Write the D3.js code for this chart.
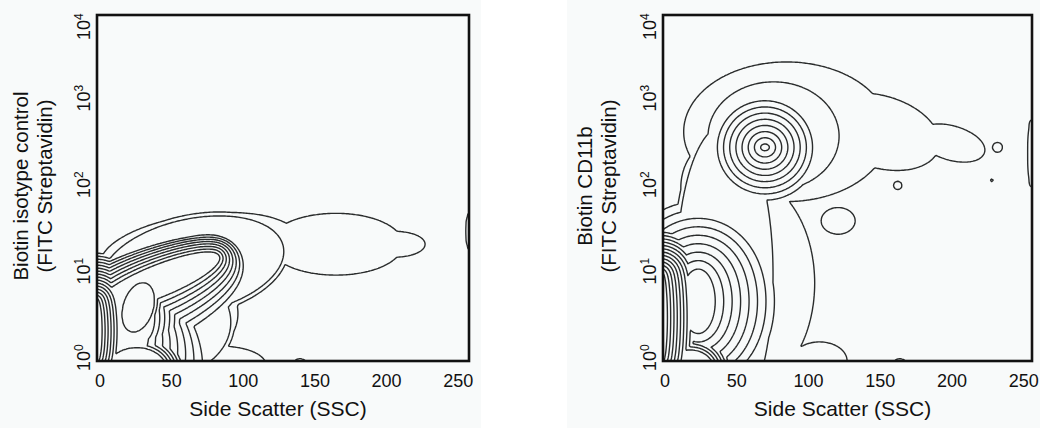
<!DOCTYPE html>
<html><head><meta charset="utf-8">
<script src="https://cdn.jsdelivr.net/npm/d3@7"></script>
<style>
body{margin:0;background:#fff}
text{font-family:"Liberation Sans",Arial,Helvetica,sans-serif;fill:#111}
</style></head>
<body><svg id="c" width="1040" height="428"></svg>
<script>
// ---------- data ----------
const sscTicks = [0, 50, 100, 150, 200, 250];
const fitcTicks = [1, 10, 100, 1000, 10000];
const xTitle = "Side Scatter (SSC)";
const yTitles = [["Biotin isotype control", "(FITC Streptavidin)"], ["Biotin CD11b", "(FITC Streptavidin)"]];
const contourLevels = [1, 2, 4, 8, 16, 32, 64, 128, 256, 512, 1024, 2048, 4096, 8192, 16384, 32768];
// populations: [SSC centre, log10 FITC centre, half-width SSC, half-width decades, tilt,
//               density level, edge softness (SSC units), softness change per decade]
const isotypePops = [
  [-3, 0.35, 3, 0.35, 0, 60000, 3, 0],
  [5, 0.3, 27, 0.42, 0, 700, 7, -4],
  [42, 0.932, 40.95, 0.313, 0.824, 700, 4, -3],
  [30, 0.5, 7, 0.25, 0, 700, 5, 0],
  [27, 0.62, 11, 0.28, 0.3, 1150, 3, 0],
  [26, -0.12, 21, 0.27, 0, 1150, 3, 0],
  [65, 1.1, 62, 0.55, 0.3, 3, 4, 0],
  [45, 0.45, 45, 0.6, 0, 3, 4, 0],
  [70, 1.25, 68, 0.44, 0.3, 1.5, 4, 0],
  [45, 0.55, 50, 0.6, 0, 1.5, 4, 0],
  [85, -0.05, 30, 0.2, 0, 1.5, 3, 0],
  [165, 1.35, 45, 0.33, 0, 1.5, 4, 0],
  [205, 1.35, 21, 0.13, 0, 1.5, 3, 0],
  [259, 1.5, 3, 0.22, 0, 1.5, 1, 0],
  [140, -0.03, 4, 0.05, 0, 1.5, 1, 0]
];
const cd11bPops = [
  [-3, 0.5, 3, 0.5, 0, 60000, 3.3, 0],
  [23.5, 0.69, 10.5, 0.35, 0, 300, 8.5, 0],
  [18, -0.1, 16, 0.22, 0, 600, 3, 0],
  [70, 2.47, 2.5, 0.03, 0, 560, 6.2, 0],
  [42, 1.0, 32, 1.7, 0, 3, 4, 0],
  [76, 2.6, 44, 0.6, 0, 3, 4, 0],
  [55, 0.9, 48, 1.2, 0, 1.5, 4, 0],
  [35, 2.0, 22, 0.5, 0, 1.5, 4, 0],
  [85, 2.65, 70, 0.78, 0, 1.5, 4, 0],
  [150, 2.65, 40, 0.42, -0.3, 1.5, 4, 0],
  [200, 2.52, 22, 0.2, -0.4, 1.5, 3, 0],
  [108, 0, 18, 0.2, 0, 1.5, 3, 0],
  [121, 1.62, 11, 0.14, 0, 1.5, 2, 0],
  [162.5, 2.03, 2.5, 0.04, 0, 1.5, 1, 0],
  [232, 2.47, 3, 0.05, 0, 1.5, 1, 0],
  [228, 2.09, 0.7, 0.012, 0, 1.5, 0.6, 0],
  [255.5, 2.4, 2, 0.38, 0, 1.5, 1, 0],
  [164, -0.03, 4, 0.05, 0, 1.5, 1, 0]
];
const panelPops = [isotypePops, cd11bPops];

// ---------- layout ----------
const svg = d3.select("#c");
const panels = [
  {bg: [0, 481], fx0: 97, fx1: 469, x0: 99.5, x250: 457.7, titleX: 278, ytx: [27.5, 51.7]},
  {bg: [567, 1040], fx0: 663, fx1: 1032, x0: 664.5, x250: 1023.3, titleX: 842.5, ytx: [592, 616]}
];
const fy0 = 15, fy1 = 361;
const yScale = d3.scaleLog().domain([1, 10000]).range([fy1, fy0]);

panels.forEach(p => {
  svg.append("rect").attr("x", p.bg[0]).attr("y", 0).attr("width", p.bg[1] - p.bg[0]).attr("height", 428).attr("fill", "#f8fafa");
});

function segDist2(px, py, a, b) {
  const vx = b[0] - a[0], vy = b[1] - a[1];
  const wx = px - a[0], wy = py - a[1];
  const L = vx * vx + vy * vy;
  let t = L > 0 ? (wx * vx + wy * vy) / L : 0;
  t = Math.max(0, Math.min(1, t));
  const dx = wx - t * vx, dy = wy - t * vy;
  return dx * dx + dy * dy;
}

panels.forEach((p, pi) => {
  const pops = panelPops[pi];
  const xScale = d3.scaleLinear().domain([0, 250]).range([p.x0, p.x250]);
  const pxPerSSC = (p.x250 - p.x0) / 250;
  const pxPerDec = (yScale(1) - yScale(10));
  const EQ = pxPerDec / pxPerSSC;
  const sMin = xScale.invert(p.fx0), sMax = xScale.invert(p.fx1);
  const nx = 260, ny = 240;
  const values = new Float64Array(nx * ny);
  const NB = 160;
  const comps = pops.map(c => {
    const [cx, cu, ax, au, rho, level, edge, slope] = c;
    const ay = au * EQ;
    const sxx = ax * ax, syy = ay * ay, sxy = rho * ax * ay;
    const tr = sxx + syy, det = sxx * syy - sxy * sxy;
    const disc = Math.sqrt(Math.max(tr * tr / 4 - det, 0));
    const a = Math.sqrt(tr / 2 + disc), b = Math.sqrt(Math.max(tr / 2 - disc, 1e-6));
    const th = 0.5 * Math.atan2(2 * sxy, sxx - syy);
    const ct = Math.cos(th), st = Math.sin(th);
    const pts = [];
    for (let k = 0; k < NB; k++) {
      const t = 2 * Math.PI * k / NB;
      const ex = a * Math.cos(t), ey = b * Math.sin(t);
      pts.push([cx + ex * ct - ey * st, cu * EQ + ex * st + ey * ct]);
    }
    return {cx, cu, cy: cu * EQ, a, b, ct, st, level, edge, slope: slope || 0, pts};
  });
  function compValue(c, s, y, u, cur) {
    const dx = s - c.cx, dy = y - c.cy;
    const e1 = (dx * c.ct + dy * c.st) / c.a, e2 = (-dx * c.st + dy * c.ct) / c.b;
    const r = Math.sqrt(e1 * e1 + e2 * e2);
    if (r <= 1) return c.level;
    let lam = c.edge + c.slope * (u - c.cu);
    if (c.slope !== 0) lam = Math.max(2.5, lam);
    if (c.level * Math.exp(-(r - 1) * c.b / lam) < Math.max(cur, 0.3)) return 0;
    let m = Infinity, km = 0;
    const P = c.pts, n = P.length;
    for (let k = 0; k < n; k++) {
      const ddx = s - P[k][0], ddy = y - P[k][1];
      const dd = ddx * ddx + ddy * ddy;
      if (dd < m) { m = dd; km = k; }
    }
    const d2 = Math.min(m, segDist2(s, y, P[km], P[(km + 1) % n]), segDist2(s, y, P[(km + n - 1) % n], P[km]));
    return c.level * Math.exp(-Math.sqrt(d2) / lam);
  }
  for (let j = 0; j < ny; j++) {
    const u = (j + 0.5) * 4 / ny, y = u * EQ;
    for (let i = 0; i < nx; i++) {
      const s = sMin + (i + 0.5) * (sMax - sMin) / nx;
      let v = 0;
      for (const c of comps) v = Math.max(v, compValue(c, s, y, u, v));
      values[j * nx + i] = v;
    }
  }
  const contours = d3.contours().size([nx, ny]).thresholds(contourLevels)(values);
  const fw = p.fx1 - p.fx0, fh = fy1 - fy0;
  const proj = d3.geoTransform({point: function(x, y) {
    this.stream.point(p.fx0 + x * fw / nx, fy1 - y * fh / ny);
  }});
  const path = d3.geoPath(proj);
  const clipId = "clip" + pi;
  svg.append("clipPath").attr("id", clipId).append("rect")
    .attr("x", p.fx0).attr("y", fy0).attr("width", fw).attr("height", fh);
  svg.append("g").attr("clip-path", `url(#${clipId})`)
    .selectAll("path").data(contours).join("path")
    .attr("d", path).attr("fill", "none").attr("stroke", "#2a2c2c").attr("stroke-width", 1.4)
    .attr("stroke-linejoin", "round");
  svg.append("rect").attr("x", p.fx0).attr("y", fy0).attr("width", fw).attr("height", fh)
    .attr("fill", "none").attr("stroke", "#111").attr("stroke-width", 2.6);

  // x axis
  const xAxis = d3.axisBottom(xScale).tickValues(sscTicks).tickSize(0).tickPadding(0);
  const gx = svg.append("g").attr("transform", `translate(0,${fy1})`).call(xAxis);
  gx.select(".domain").remove();
  gx.selectAll("text").attr("y", 26).attr("dy", 0).attr("font-size", 18)
    .style("font-family", '"Liberation Sans",Arial,sans-serif').attr("fill", "#111");
  svg.append("text").attr("x", p.titleX).attr("y", 416).attr("text-anchor", "middle")
    .attr("font-size", 21).text(xTitle);

  // y axis (log decades, rotated labels)
  const yl = svg.append("g");
  fitcTicks.forEach(t => {
    const ys = Math.max(yScale(t) + 10, fy0 + 25);
    const tx = yl.append("text").attr("transform", `translate(${p.fx0 - 7},${ys}) rotate(-90)`)
      .attr("font-size", 18);
    tx.append("tspan").text("10");
    tx.append("tspan").attr("dy", -7).attr("font-size", 12).text(String(Math.round(Math.log10(t))));
  });
  yTitles[pi].forEach((line, li) => {
    svg.append("text").attr("transform", `translate(${p.ytx[li]},${186}) rotate(-90)`)
      .attr("text-anchor", "middle").attr("font-size", 20.5).text(line);
  });
});
</script></body></html>
